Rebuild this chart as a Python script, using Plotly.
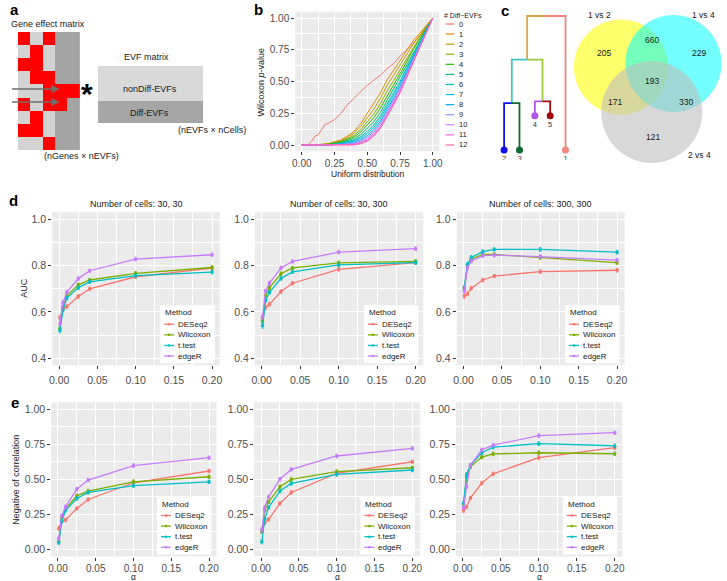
import math
import plotly.graph_objects as go

W, H = 727, 581
FONT = "Liberation Sans, Arial, Helvetica, sans-serif"

# ======================= DATA =======================
# --- panel a: gene effect matrix (0 = light, 1 = red, 2 = dark EVF column)
gene_effect = [
    [1, 0, 1, 2, 2],
    [0, 1, 0, 2, 2],
    [1, 1, 0, 2, 2],
    [0, 1, 1, 2, 2],
    [0, 0, 1, 1, 1],
    [1, 0, 1, 1, 2],
    [0, 1, 0, 2, 2],
    [1, 1, 0, 2, 2],
    [0, 0, 1, 2, 2],
]
evf_rows = ["nonDiff-EVFs", "Diff-EVFs"]

# --- panel b: Wilcoxon p-value vs uniform quantiles
diff_evf_levels = ["0", "1", "2", "3", "4", "5", "6", "7", "8", "9", "10", "11", "12"]
uq0 = [0, .025, .05, .075, .1, .125, .15, .175, .2, .25, .3, .35, .4, .45, .5,
       .55, .6, .65, .7, .75, .8, .85, .9, .95, 1]
p_evf0 = [0, 0, .005, .03, .07, .08, .12, .16, .17, .2, .25, .32, .37, .42, .47,
          .51, .55, .6, .64, .7, .75, .8, .86, .92, 1]
uq = [0, .1, .2, .3, .35, .4, .45, .5, .55, .6, .65, .7, .75, .8, .85, .9, .95, 1.0]
p_evf1 = [0, 0, .010, .040, .070, .110, .170, .250, .320, .410, .510, .590, .670, .750, .820, .880, .940, 1]
p_evf2 = [0, 0, .010, .034, .060, .094, .146, .217, .283, .368, .466, .548, .631, .717, .795, .864, .933, 1]
p_evf3 = [0, 0, .005, .028, .049, .077, .122, .184, .245, .326, .423, .506, .592, .684, .769, .847, .925, 1]
p_evf4 = [0, 0, .005, .023, .041, .064, .103, .158, .215, .292, .388, .472, .561, .658, .749, .834, .919, 1]
p_evf5 = [0, 0, 0, .018, .032, .050, .082, .129, .183, .256, .350, .436, .527, .629, .727, .820, .913, 1]
p_evf6 = [0, 0, 0, .014, .025, .039, .066, .107, .158, .228, .322, .408, .501, .607, .710, .809, .908, 1]
p_evf7 = [0, 0, 0, .011, .020, .031, .055, .092, .140, .208, .301, .388, .483, .592, .698, .801, .904, 1]
p_evf8 = [0, 0, 0, .008, .014, .022, .042, .074, .120, .186, .278, .366, .462, .574, .684, .792, .900, 1]
p_evf9 = [0, 0, 0, .006, .010, .015, .032, .061, .105, .169, .261, .349, .446, .561, .674, .785, .897, 1]
p_evf10 = [0, 0, 0, .003, .006, .009, .023, .048, .090, .152, .243, .332, .431, .548, .664, .779, .894, 1]
p_evf11 = [0, 0, 0, .002, .003, .004, .016, .039, .080, .141, .232, .321, .420, .539, .657, .774, .892, 1]
p_evf12 = [0, 0, 0, 0, 0, 0, .010, .030, .070, .130, .220, .310, .410, .530, .650, .770, .890, 1]

# --- panel c: dendrogram + Venn
dendro_leaves = ["2", "3", "4", "5", "1"]
leaf_heights = [0, 0, 1.02, 1.02, 0]
h_23, h_45, h_2345, h_root = 1.4, 1.45, 2.7, 4.0
venn_sets = ["1 vs 2", "1 vs 4", "2 vs 4"]
venn_only12, venn_only14, venn_only24 = 205, 229, 121
venn_12_14, venn_12_24, venn_14_24, venn_all = 660, 171, 330, 193

# --- panels d / e
alpha = [0.001, 0.005, 0.01, 0.025, 0.04, 0.1, 0.2]
methods = ["DESeq2", "Wilcoxon", "t.test", "edgeR"]
panel_titles = ["Number of cells: 30, 30", "Number of cells: 30, 300", "Number of cells: 300, 300"]
auc_30_30 = [
    [0.575, 0.615, 0.623, 0.667, 0.700, 0.752, 0.789],
    [0.530, 0.620, 0.670, 0.717, 0.738, 0.767, 0.792],
    [0.520, 0.610, 0.660, 0.705, 0.730, 0.757, 0.772],
    [0.550, 0.640, 0.685, 0.744, 0.778, 0.828, 0.847],
]
auc_30_300 = [
    [0.573, 0.620, 0.633, 0.688, 0.724, 0.784, 0.813],
    [0.560, 0.670, 0.705, 0.765, 0.790, 0.812, 0.818],
    [0.540, 0.650, 0.685, 0.745, 0.773, 0.803, 0.813],
    [0.580, 0.690, 0.725, 0.790, 0.818, 0.858, 0.873],
]
auc_300_300 = [
    [0.669, 0.678, 0.702, 0.738, 0.755, 0.774, 0.780],
    [0.700, 0.800, 0.829, 0.848, 0.848, 0.835, 0.813],
    [0.705, 0.805, 0.835, 0.860, 0.870, 0.870, 0.858],
    [0.690, 0.790, 0.820, 0.843, 0.845, 0.839, 0.824],
]
negcor_30_30 = [
    [0.150, 0.200, 0.210, 0.293, 0.357, 0.476, 0.560],
    [0.060, 0.220, 0.290, 0.383, 0.417, 0.483, 0.519],
    [0.050, 0.200, 0.280, 0.364, 0.407, 0.455, 0.483],
    [0.080, 0.240, 0.305, 0.431, 0.495, 0.598, 0.655],
]
negcor_30_300 = [
    [0.126, 0.190, 0.214, 0.329, 0.407, 0.543, 0.626],
    [0.130, 0.280, 0.340, 0.448, 0.500, 0.555, 0.583],
    [0.055, 0.220, 0.300, 0.417, 0.471, 0.536, 0.567],
    [0.140, 0.300, 0.376, 0.502, 0.571, 0.667, 0.721],
]
negcor_300_300 = [
    [0.280, 0.303, 0.367, 0.474, 0.540, 0.655, 0.726],
    [0.320, 0.520, 0.590, 0.659, 0.682, 0.690, 0.683],
    [0.330, 0.535, 0.600, 0.690, 0.730, 0.755, 0.740],
    [0.300, 0.450, 0.600, 0.711, 0.744, 0.812, 0.833],
]
err_auc = [0.010, 0.008, 0.008, 0.008, 0.007, 0.008, 0.008]
err_cor = [0.015, 0.012, 0.012, 0.012, 0.012, 0.014, 0.012]

alpha_ticks = [0, 0.05, 0.10, 0.15, 0.20]
alpha_ticktext = ["0.00", "0.05", "0.10", "0.15", "0.20"]
auc_ticks = [0.4, 0.6, 0.8, 1.0]
auc_ticktext = ["0.4", "0.6", "0.8", "1.0"]
cor_ticks = [0, 0.25, 0.5, 0.75, 1.0]
cor_ticktext = ["0.00", "0.25", "0.50", "0.75", "1.00"]


# ======================= HELPERS =======================
def hcl_hex(h, c=100, l=65):
    hr = math.radians(h)
    u, v = c * math.cos(hr), c * math.sin(hr)
    Xn, Yn, Zn = 95.047, 100.0, 108.883
    den = Xn + 15 * Yn + 3 * Zn
    un, vn = 4 * Xn / den, 9 * Yn / den
    Y = Yn * ((l + 16) / 116) ** 3
    up, vp = u / (13 * l) + un, v / (13 * l) + vn
    X = Y * 9 * up / (4 * vp)
    Z = Y * (12 - 3 * up - 20 * vp) / (4 * vp)
    X, Y, Z = X / 100, Y / 100, Z / 100
    r = 3.2404542 * X - 1.5371385 * Y - 0.4985314 * Z
    g = -0.9692660 * X + 1.8760108 * Y + 0.0415560 * Z
    b = 0.0556434 * X - 0.2040259 * Y + 1.0572252 * Z

    def gam(t):
        t = max(0.0, min(1.0, t))
        return 12.92 * t if t <= 0.0031308 else 1.055 * t ** (1 / 2.4) - 0.055
    return "#%02X%02X%02X" % tuple(int(round(255 * gam(t))) for t in (r, g, b))


def hue_pal(n):
    return [hcl_hex(15 + 360 * i / n) for i in range(n)]


def PX(x):
    return x / W


def PY(y):
    return 1 - y / H


shapes = []
annotations = []


def text(s, x, y, size=9, color="#1A1A1A", xanchor="center", yanchor="middle",
         angle=0, bold=False):
    if bold:
        s = "<b>" + s + "</b>"
    annotations.append(dict(text=s, x=PX(x), y=PY(y), xref="paper", yref="paper",
                            showarrow=False, xanchor=xanchor, yanchor=yanchor,
                            textangle=angle,
                            font=dict(family=FONT, size=size, color=color)))


def rect(x0, y0, x1, y1, fill, layer="below", line_color=None):
    shapes.append(dict(type="rect", xref="paper", yref="paper",
                       x0=PX(x0), x1=PX(x1), y0=PY(y1), y1=PY(y0),
                       fillcolor=fill, layer=layer,
                       line=dict(width=0 if line_color is None else 1,
                                 color=line_color or fill)))


def hline(x0, x1, y, color, width=1.2):
    shapes.append(dict(type="line", xref="paper", yref="paper",
                       x0=PX(x0), x1=PX(x1), y0=PY(y), y1=PY(y),
                       line=dict(color=color, width=width), layer="above"))


def dot(x, y, r, color):
    shapes.append(dict(type="circle", xref="paper", yref="paper",
                       x0=PX(x - r), x1=PX(x + r), y0=PY(y + r), y1=PY(y - r),
                       fillcolor=color, line=dict(width=0), layer="above"))


def data_axis(dom, rng, tickvals, ticktext, minor_vals, anchor, fsize=10.5):
    return dict(domain=dom, range=rng, anchor=anchor,
                tickmode="array", tickvals=tickvals, ticktext=ticktext,
                ticks="outside", ticklen=3, tickwidth=1, tickcolor="#333333",
                tickfont=dict(family=FONT, size=fsize, color="#4D4D4D"),
                showgrid=True, gridcolor="white", gridwidth=1,
                minor=dict(tickvals=minor_vals, showgrid=True, gridcolor="white",
                           gridwidth=0.5, ticks=""),
                zeroline=False, showline=False, fixedrange=True)


def hidden_axis(dom, rng, anchor):
    return dict(domain=dom, range=rng, anchor=anchor, visible=False,
                showgrid=False, zeroline=False, fixedrange=True)


fig = go.Figure()
layout = {}

method_colors = hue_pal(4)
evf_colors = hue_pal(13)

# ======================= PANEL A =======================
A_L, A_R, A_T, A_B = 15, 78, 32, 150
fig.add_trace(go.Heatmap(
    z=gene_effect, xaxis="x8", yaxis="y8", showscale=False, zmin=0, zmax=2,
    colorscale=[[0, "#D3D3D3"], [0.333, "#D3D3D3"], [0.334, "#FF0000"],
                [0.666, "#FF0000"], [0.667, "#A4A4A4"], [1, "#A4A4A4"]],
    hoverinfo="skip"))
layout["xaxis8"] = hidden_axis([PX(A_L), PX(A_R)], [-0.5, 4.5], "y8")
layout["yaxis8"] = hidden_axis([PY(A_B), PY(A_T)], [len(gene_effect) - 0.5, -0.5], "x8")

text("a", 11.5, 9.5, size=15, color="black", bold=True)
text("Gene effect matrix", 45, 24.5, size=9)
text("(nGenes × nEVFs)", 79, 156.5, size=9)
for yy in (89, 102):
    annotations.append(dict(x=PX(57), y=PY(yy), xref="paper", yref="paper",
                            ax=-49, ay=0, axref="pixel", ayref="pixel", text="",
                            showarrow=True, arrowhead=2, arrowsize=1, arrowwidth=1.6,
                            arrowcolor="#707070"))
text("*", 85, 94, size=30, color="black", bold=True)
text("EVF matrix", 145, 57.5, size=9)
rect(96, 66, 202, 101, "#D9D9D9", layer="above")
rect(96, 101, 202, 123, "#A6A6A6", layer="above")
text(evf_rows[0], 148, 89, size=9)
text(evf_rows[1], 148, 112.5, size=9)
text("(nEVFs × nCells)", 175, 130.5, size=9, xanchor="left")

# ======================= PANEL B =======================
B_L, B_R, B_T, B_B = 295.1, 440.6, 11.65, 151.35
rect(B_L, B_T, B_R, B_B, "#EBEBEB")
p_evf = [p_evf0, p_evf1, p_evf2, p_evf3, p_evf4, p_evf5, p_evf6, p_evf7,
         p_evf8, p_evf9, p_evf10, p_evf11, p_evf12]
for i, lvl in enumerate(diff_evf_levels):
    xs = uq0 if i == 0 else uq
    fig.add_trace(go.Scatter(x=xs, y=p_evf[i], mode="lines", xaxis="x", yaxis="y",
                             line=dict(color=evf_colors[i], width=1),
                             showlegend=False, hoverinfo="skip"))
layout["xaxis"] = data_axis([PX(B_L), PX(B_R)], [-0.05, 1.05],
                            [0, .25, .5, .75, 1], ["0.00", "0.25", "0.50", "0.75", "1.00"],
                            [.125, .375, .625, .875], "y", fsize=10)
layout["yaxis"] = data_axis([PY(B_B), PY(B_T)], [-0.05, 1.05],
                            [0, .25, .5, .75, 1], ["0.00", "0.25", "0.50", "0.75", "1.00"],
                            [.125, .375, .625, .875], "x", fsize=10)
text("b", 258, 10, size=15, color="black", bold=True)
text("Wilcoxon <i>p</i>-value", 261, 82, size=9, angle=-90)
text("Uniform distribution", (B_L + B_R) / 2, 174, size=8.5)
text("# Diff−EVFs", 443, 15, size=7, xanchor="left")
for i, lvl in enumerate(diff_evf_levels):
    yy = 24 + i * 10.08
    hline(447, 455.5, yy, evf_colors[i], width=1.2)
    text(lvl, 458, yy, size=7.5, xanchor="left", color="#1A1A1A")

# ======================= PANEL C =======================
text("c", 507, 10.5, size=15, color="black", bold=True)
DX_L, DX_R, DY_T, DY_B = 496, 578, 8, 160
layout["xaxis9"] = hidden_axis([PX(DX_L), PX(DX_R)], [1 - 10 / 15.5, 5 + 10 / 15.5], "y9")
layout["yaxis9"] = hidden_axis([PY(DY_B), PY(DY_T)], [-10 / 33.5, (150 - 8) / 33.5], "x9")
pos = {leaf: i + 1 for i, leaf in enumerate(dendro_leaves)}
m23 = (pos["2"] + pos["3"]) / 2
m45 = (pos["4"] + pos["5"]) / 2
m2345 = (m23 + m45) / 2
mroot = (m2345 + pos["1"]) / 2
segments = [
    ([m2345, m2345, mroot], [h_2345, h_root, h_root], "#D9A545"),
    ([mroot, pos["1"], pos["1"]], [h_root, h_root, leaf_heights[4]], "#F4857C"),
    ([m23, m23, m2345], [h_23, h_2345, h_2345], "#3EC6C8"),
    ([m2345, m45, m45], [h_2345, h_2345, h_45], "#9CC83E"),
    ([pos["2"], pos["2"], m23], [leaf_heights[0], h_23, h_23], "#1010E8"),
    ([m23, pos["3"], pos["3"]], [h_23, h_23, leaf_heights[1]], "#0E6A30"),
    ([pos["4"], pos["4"], m45], [leaf_heights[2], h_45, h_45], "#B055EA"),
    ([m45, pos["5"], pos["5"]], [h_45, h_45, leaf_heights[3]], "#A00C0C"),
]
for xs, ys, col in segments:
    fig.add_trace(go.Scatter(x=xs, y=ys, mode="lines", xaxis="x9", yaxis="y9",
                             line=dict(color=col, width=1.8), showlegend=False,
                             hoverinfo="skip"))
leaf_cols = ["#1010E8", "#0E6A30", "#B055EA", "#A00C0C", "#F4857C"]
fig.add_trace(go.Scatter(x=[pos[l] for l in dendro_leaves], y=leaf_heights,
                         mode="markers+text", text=dendro_leaves,
                         textposition="bottom center",
                         textfont=dict(family=FONT, size=7.5, color="#333333"),
                         marker=dict(size=7, color=leaf_cols),
                         xaxis="x9", yaxis="y9", showlegend=False, hoverinfo="skip"))

for (cx, cy, r, col) in [(624, 67, 47.5, "rgba(255,255,0,0.58)"),
                         (677, 63.5, 48.5, "rgba(0,255,255,0.55)"),
                         (655, 112, 51, "rgba(190,190,190,0.6)")]:
    shapes.append(dict(type="circle", xref="paper", yref="paper",
                       x0=PX(cx - r), x1=PX(cx + r), y0=PY(cy + r), y1=PY(cy - r),
                       fillcolor=col, line=dict(width=0), layer="above"))
text(venn_sets[0], 602, 15, size=8.5)
text(venn_sets[1], 707, 15, size=8.5)
text(venn_sets[2], 703, 155, size=8.5)
for val, (x, y) in [(venn_only12, (607, 53)), (venn_12_14, (655, 40)),
                    (venn_only14, (703, 53)), (venn_all, (655, 81)),
                    (venn_12_24, (618, 102)), (venn_14_24, (690, 102)),
                    (venn_only24, (656, 137))]:
    text(str(val), x, y, size=8.5)

# ======================= PANELS D / E =======================
D_T, D_B = 212.35, 365.25
E_T, E_B = 402.3, 556.5
d_cols = [(49.8, 218.8), (254.3, 424.4), (458.1, 627.7)]
e_cols = [(48.7, 215.6), (253.7, 420.9), (457.4, 625.3)]
x_range = [-0.00895, 0.20995]
d_data = [auc_30_30, auc_30_300, auc_300_300]
e_data = [negcor_30_30, negcor_30_300, negcor_300_300]


def method_legend(right, bottom):
    rect(right - 60, bottom - 60, right - 5, bottom - 2, "white", layer="above")
    text("Method", right - 57, bottom - 52.5, size=8, xanchor="left")
    for i, (m, c) in enumerate(zip(methods, method_colors)):
        yy = bottom - 41 + i * 10.6
        hline(right - 56, right - 46, yy, c, width=1.3)
        dot(right - 51, yy, 1.3, c)
        text(m, right - 44, yy, size=8, xanchor="left")


for k in range(3):
    ax_id = k + 2
    xa, ya = "x%d" % ax_id, "y%d" % ax_id
    L, R = d_cols[k]
    rect(L, D_T, R, D_B, "#EBEBEB")
    for j, m in enumerate(methods):
        fig.add_trace(go.Scatter(
            x=alpha, y=d_data[k][j], mode="lines+markers", xaxis=xa, yaxis=ya,
            line=dict(color=method_colors[j], width=1.3),
            marker=dict(size=3.5, color=method_colors[j]),
            error_y=dict(type="data", array=err_auc, thickness=0.8, width=1.2,
                         color=method_colors[j]),
            showlegend=False, hoverinfo="skip"))
    layout["xaxis%d" % ax_id] = data_axis([PX(L), PX(R)], x_range, alpha_ticks,
                                          alpha_ticktext, [0.025, 0.075, 0.125, 0.175], ya)
    layout["xaxis%d" % ax_id]["ticklabelstandoff"] = 2
    layout["yaxis%d" % ax_id] = data_axis([PY(D_B), PY(D_T)], [0.37, 1.03], auc_ticks,
                                          auc_ticktext, [0.5, 0.7, 0.9], xa)
    text(panel_titles[k], (L + R) / 2, 204.3, size=9)
    method_legend(R, D_B)

    ax_id = k + 5
    xa, ya = "x%d" % ax_id, "y%d" % ax_id
    L, R = e_cols[k]
    rect(L, E_T, R, E_B, "#EBEBEB")
    for j, m in enumerate(methods):
        fig.add_trace(go.Scatter(
            x=alpha, y=e_data[k][j], mode="lines+markers", xaxis=xa, yaxis=ya,
            line=dict(color=method_colors[j], width=1.3),
            marker=dict(size=3.5, color=method_colors[j]),
            error_y=dict(type="data", array=err_cor, thickness=0.8, width=1.2,
                         color=method_colors[j]),
            showlegend=False, hoverinfo="skip"))
    layout["xaxis%d" % ax_id] = data_axis([PX(L), PX(R)], x_range, alpha_ticks,
                                          alpha_ticktext, [0.025, 0.075, 0.125, 0.175], ya,
                                          fsize=10)
    layout["xaxis%d" % ax_id]["ticklabelstandoff"] = -1
    layout["yaxis%d" % ax_id] = data_axis([PY(E_B), PY(E_T)], [-0.05, 1.05], cor_ticks,
                                          cor_ticktext, [0.125, 0.375, 0.625, 0.875], xa)
    text("α", (L + R) / 2, 576.5, size=8.5)
    method_legend(R, E_B)

text("d", 11, 200.5, size=15, color="black", bold=True)
text("e", 12, 402.5, size=15, color="black", bold=True)
text("AUC", 21, 288, size=9, angle=-90)
text("Negative of correlation", 13, 480, size=9, angle=-90)

fig.update_layout(
    width=W, height=H, margin=dict(l=0, r=0, t=0, b=0),
    paper_bgcolor="white", plot_bgcolor="rgba(0,0,0,0)",
    showlegend=False, shapes=shapes, annotations=annotations,
    font=dict(family=FONT), **layout)

fig.write_html("out.html")
